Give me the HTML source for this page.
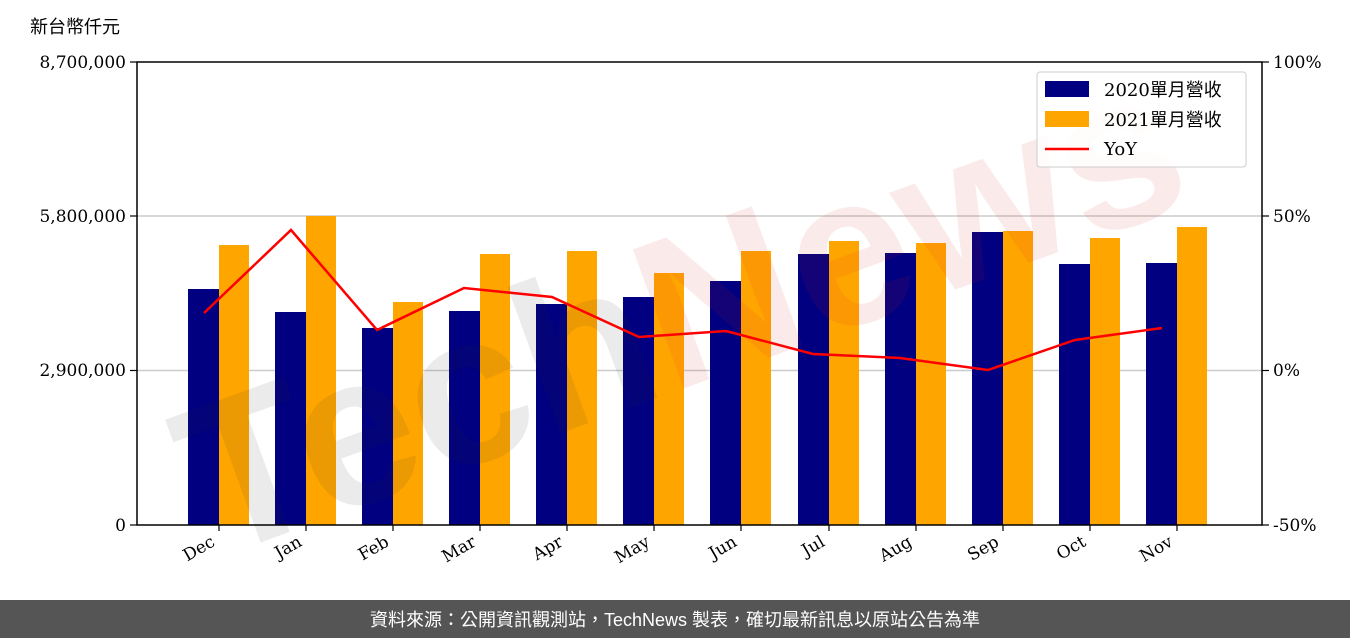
<!DOCTYPE html>
<html><head><meta charset="utf-8"><style>
html,body{margin:0;padding:0;background:#fff;width:1350px;height:638px;overflow:hidden}
svg{display:block}
</style></head><body>
<svg width="1350" height="638" xmlns="http://www.w3.org/2000/svg" font-family="'DejaVu Serif','Liberation Serif','Noto Sans CJK TC',serif">
<rect width="1350" height="638" fill="#fff"/>
<text x="30" y="33" font-size="18" font-family="'Liberation Sans','Noto Sans CJK TC',sans-serif" fill="#000">新台幣仟元</text>
<line x1="137" y1="216" x2="1262" y2="216" stroke="#ccc" stroke-width="1.5"/>
<line x1="137" y1="370.5" x2="1262" y2="370.5" stroke="#ccc" stroke-width="1.5"/>
<g id="bars">
<rect x="188" y="289" width="31" height="236" fill="#000080"/><rect x="219" y="245" width="30" height="280" fill="#ffa500"/>
<rect x="275" y="312" width="31" height="213" fill="#000080"/><rect x="306" y="216" width="30" height="309" fill="#ffa500"/>
<rect x="362" y="328" width="31" height="197" fill="#000080"/><rect x="393" y="302" width="30" height="223" fill="#ffa500"/>
<rect x="449" y="311" width="31" height="214" fill="#000080"/><rect x="480" y="254" width="30" height="271" fill="#ffa500"/>
<rect x="536" y="304" width="31" height="221" fill="#000080"/><rect x="567" y="251" width="30" height="274" fill="#ffa500"/>
<rect x="623" y="297" width="31" height="228" fill="#000080"/><rect x="654" y="273" width="30" height="252" fill="#ffa500"/>
<rect x="710" y="281" width="31" height="244" fill="#000080"/><rect x="741" y="251" width="30" height="274" fill="#ffa500"/>
<rect x="798" y="254" width="31" height="271" fill="#000080"/><rect x="829" y="241" width="30" height="284" fill="#ffa500"/>
<rect x="885" y="253" width="31" height="272" fill="#000080"/><rect x="916" y="243" width="30" height="282" fill="#ffa500"/>
<rect x="972" y="232" width="31" height="293" fill="#000080"/><rect x="1003" y="231" width="30" height="294" fill="#ffa500"/>
<rect x="1059" y="264" width="31" height="261" fill="#000080"/><rect x="1090" y="238" width="30" height="287" fill="#ffa500"/>
<rect x="1146" y="263" width="31" height="262" fill="#000080"/><rect x="1177" y="227" width="30" height="298" fill="#ffa500"/>
</g>
<g opacity="0.09" transform="rotate(-20 680 310)">
<text x="680" y="385" font-size="215" font-family="'Liberation Sans',sans-serif" font-weight="bold" text-anchor="middle" fill="#333">Tech<tspan fill="#d22">News</tspan></text>
</g>
<polyline fill="none" stroke="#f00" stroke-width="2.5" points="204,313 291,230 377,330 464,288 552,297 639,337 726,331 813,354 900,358 988,370 1075,340 1162,328"/>
<rect x="137" y="62" width="1125" height="463" fill="none" stroke="#000" stroke-width="1.5"/>
<g stroke="#000" stroke-width="1.2">
<line x1="130" y1="62" x2="137" y2="62"/><line x1="130" y1="216" x2="137" y2="216"/><line x1="130" y1="370.5" x2="137" y2="370.5"/><line x1="130" y1="525" x2="137" y2="525"/>
<line x1="1262" y1="62" x2="1269" y2="62"/><line x1="1262" y1="216" x2="1269" y2="216"/><line x1="1262" y1="370.5" x2="1269" y2="370.5"/><line x1="1262" y1="525" x2="1269" y2="525"/>
</g>
<g font-size="17" text-anchor="end" fill="#000">
<text x="126" y="68">8,700,000</text><text x="126" y="222">5,800,000</text><text x="126" y="376">2,900,000</text><text x="126" y="531">0</text>
</g>
<g font-size="17" fill="#000">
<text x="1273" y="68">100%</text><text x="1273" y="222">50%</text><text x="1273" y="376">0%</text><text x="1273" y="531">-50%</text>
</g>
<g font-size="17" text-anchor="end" fill="#000">
<g stroke="#000" stroke-width="1.2">
<line x1="219" y1="525" x2="219" y2="531"/><line x1="306" y1="525" x2="306" y2="531"/><line x1="393" y1="525" x2="393" y2="531"/><line x1="480" y1="525" x2="480" y2="531"/><line x1="567" y1="525" x2="567" y2="531"/><line x1="654" y1="525" x2="654" y2="531"/><line x1="741" y1="525" x2="741" y2="531"/><line x1="829" y1="525" x2="829" y2="531"/><line x1="916" y1="525" x2="916" y2="531"/><line x1="1003" y1="525" x2="1003" y2="531"/><line x1="1090" y1="525" x2="1090" y2="531"/><line x1="1177" y1="525" x2="1177" y2="531"/>
</g>
<text transform="translate(216,545) rotate(-30)">Dec</text>
<text transform="translate(303,545) rotate(-30)">Jan</text>
<text transform="translate(390,545) rotate(-30)">Feb</text>
<text transform="translate(477,545) rotate(-30)">Mar</text>
<text transform="translate(564,545) rotate(-30)">Apr</text>
<text transform="translate(651,545) rotate(-30)">May</text>
<text transform="translate(738,545) rotate(-30)">Jun</text>
<text transform="translate(826,545) rotate(-30)">Jul</text>
<text transform="translate(913,545) rotate(-30)">Aug</text>
<text transform="translate(1000,545) rotate(-30)">Sep</text>
<text transform="translate(1087,545) rotate(-30)">Oct</text>
<text transform="translate(1174,545) rotate(-30)">Nov</text>
</g>
<rect x="1037" y="72" width="209" height="95" rx="3" fill="#fff" fill-opacity="0.85" stroke="#ccc"/>
<rect x="1045" y="81" width="44" height="16" fill="#000080"/>
<rect x="1045" y="111" width="44" height="16" fill="#ffa500"/>
<line x1="1045" y1="149" x2="1089" y2="149" stroke="#f00" stroke-width="2.5"/>
<g font-size="18" fill="#000">
<text x="1104" y="96">2020單月營收</text>
<text x="1104" y="126">2021單月營收</text>
<text x="1104" y="155">YoY</text>
</g>
<rect x="0" y="600" width="1350" height="38" fill="#555"/>
<text x="675" y="626" font-size="18" text-anchor="middle" fill="#fff" font-family="'Liberation Sans','Noto Sans CJK TC',sans-serif">資料來源：公開資訊觀測站，TechNews 製表，確切最新訊息以原站公告為準</text>
</svg>
</body></html>
